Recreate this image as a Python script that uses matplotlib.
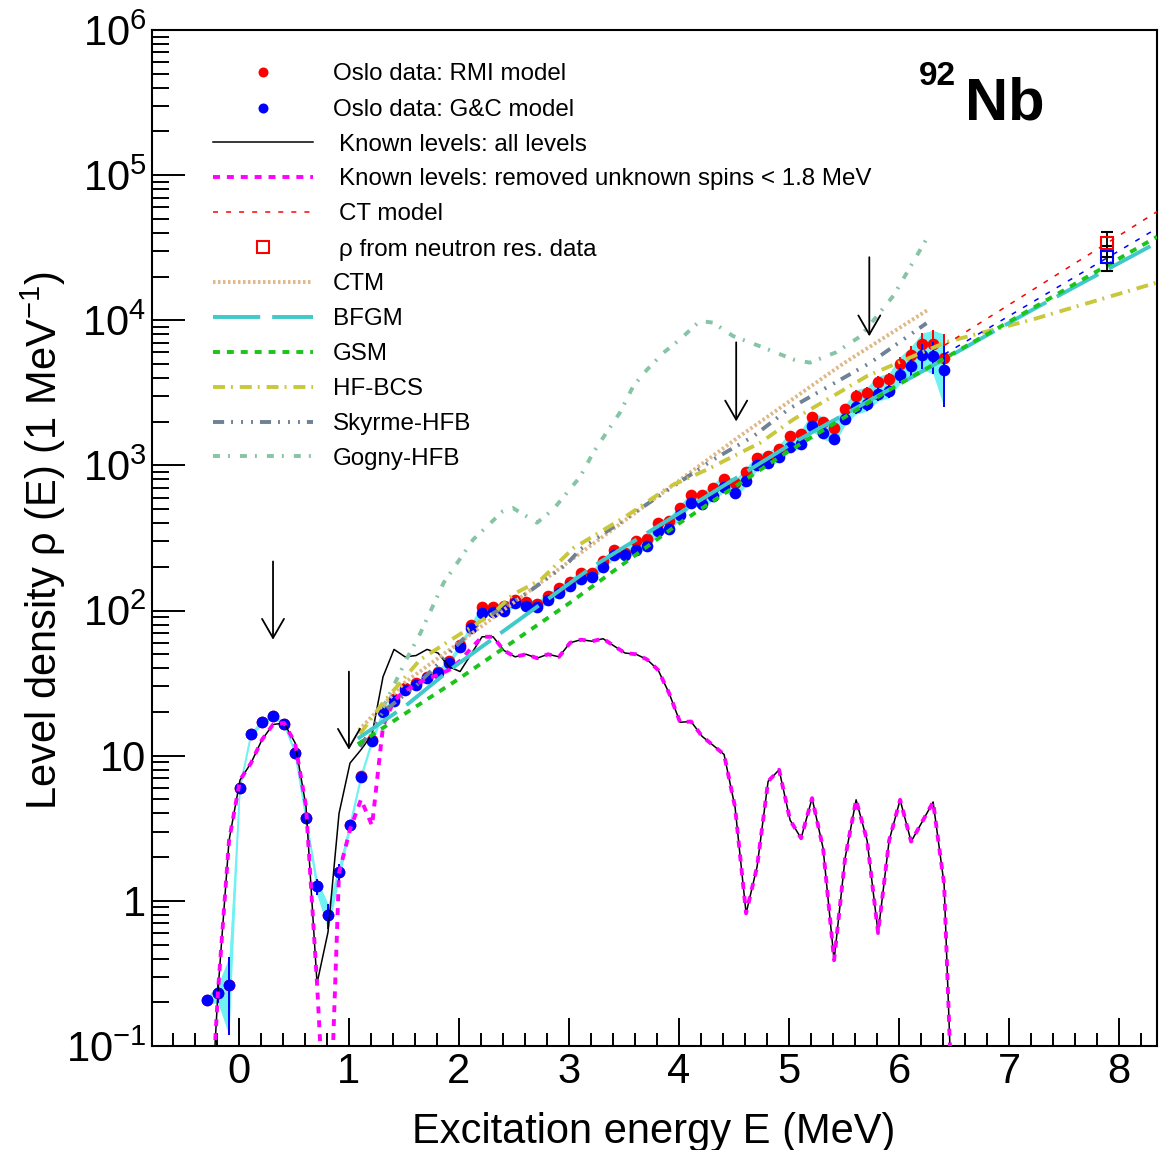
import matplotlib
matplotlib.use("Agg")
import numpy as np
import matplotlib.pyplot as plt
from matplotlib.lines import Line2D
from matplotlib.ticker import FixedLocator, FixedFormatter, LogLocator, MultipleLocator, NullFormatter

plt.rcParams['font.family'] = ['Liberation Sans', 'DejaVu Sans']
plt.rcParams['mathtext.fontset'] = 'custom'
plt.rcParams['mathtext.rm'] = 'Liberation Sans'
plt.rcParams['mathtext.it'] = 'Liberation Sans:italic'
plt.rcParams['mathtext.bf'] = 'Liberation Sans:bold'
plt.rcParams['lines.scale_dashes'] = False

# ---------------- Oslo data (bins in MeV) ----------------
energy = [-0.29, -0.19, -0.09, 0.01, 0.11, 0.21, 0.31, 0.41, 0.51, 0.61,
          0.71, 0.81, 0.91, 1.01, 1.11, 1.21, 1.31, 1.41, 1.51, 1.61,
          1.71, 1.81, 1.91, 2.01, 2.11, 2.21, 2.31, 2.41, 2.51, 2.61,
          2.71, 2.81, 2.91, 3.01, 3.11, 3.21, 3.31, 3.41, 3.51, 3.61,
          3.71, 3.81, 3.91, 4.01, 4.11, 4.21, 4.31, 4.41, 4.51, 4.61,
          4.71, 4.81, 4.91, 5.01, 5.11, 5.21, 5.31, 5.41, 5.51, 5.61,
          5.71, 5.81, 5.91, 6.01, 6.11, 6.21, 6.31, 6.41]

rho_gc = [0.207, 0.232, 0.263, 6.03, 14.1, 17.0, 18.9, 16.6, 10.5, 3.72,
          1.26, 0.794, 1.58, 3.31, 7.16, 12.6, 20.0, 24.0, 28.5, 30.9,
          34.3, 37.2, 43.7, 56.2, 75.9, 96.6, 97.7, 100, 112, 107,
          105, 119, 132, 148, 166, 170, 200, 240, 240, 263,
          277, 352, 363, 452, 553, 543, 617, 708, 646, 776,
          1000, 1047, 1148, 1349, 1396, 1862, 1660, 1514, 2075, 2512,
          2630, 3090, 3236, 4169, 4842, 5741, 5675, 4571]

rho_rmi = [0.207, 0.232, 0.263, 6.03, 14.1, 17.0, 18.9, 16.6, 10.5, 3.72,
           1.26, 0.794, 1.58, 3.31, 7.24, 12.9, 20.4, 24.5, 29.2, 31.6,
           35.1, 38.0, 44.7, 57.5, 79.4, 105, 105, 108, 118, 115,
           111, 126, 143, 157, 182, 182, 219, 260, 251, 301,
           309, 403, 417, 511, 621, 621, 701, 800, 752, 899,
           1130, 1159, 1303, 1585, 1637, 2168, 1995, 1820, 2432, 3020,
           3162, 3750, 3936, 5012, 5754, 6823, 6823, 5534]

rel_err = [0.05, 0.15, 0.55, 0.04, 0.04, 0.04, 0.04, 0.04, 0.04, 0.04,
           0.13, 0.20, 0.13, 0.07, 0.04, 0.04, 0.04, 0.04, 0.04, 0.04,
           0.04, 0.04, 0.04, 0.04, 0.04, 0.05, 0.05, 0.05, 0.05, 0.05,
           0.05, 0.05, 0.05, 0.05, 0.05, 0.05, 0.05, 0.05, 0.05, 0.05,
           0.05, 0.05, 0.05, 0.05, 0.05, 0.05, 0.07, 0.07, 0.07, 0.07,
           0.07, 0.07, 0.07, 0.07, 0.07, 0.08, 0.08, 0.08, 0.08, 0.10,
           0.10, 0.10, 0.10, 0.12, 0.15, 0.20, 0.25, 0.45]

# ---------------- known discrete levels ----------------
kl_energy = energy + [6.51]
kl_all = [0.01, 0.24, 2.6, 6.8, 8.9, 12.9, 16.4, 16.8, 12.3, 4.47,
          0.27, 0.61, 4.0, 8.9, 11, 14, 35, 54, 48, 49,
          54, 51, 41, 38, 50, 66, 66, 53, 48, 50,
          47, 50, 48, 60, 63, 61.5, 64, 57, 51, 50,
          46, 39, 27, 17, 17.2, 13.6, 11.8, 10.2, 4.4, 0.82,
          1.72, 6.65, 8.0, 3.6, 2.7, 5.1, 2.3, 0.39, 1.97, 4.97,
          2.6, 0.6, 2.6, 4.97, 2.56, 3.5, 4.8, 1.3, 0.01]
kl_removed = [0.01, 0.24, 2.6, 6.8, 8.9, 12.9, 16.4, 16.8, 12.3, 4.47,
              0.27, 0.01, 1.56, 3.1, 5.0, 3.3, 16, 24, 28, 31,
              34, 36, 39, 45, 55, 66, 66, 53, 48, 50,
              47, 50, 48, 60, 63, 61.5, 64, 57, 51, 50,
              46, 39, 27, 17, 17.2, 13.6, 11.8, 10.2, 4.4, 0.82,
              1.72, 6.65, 8.0, 3.6, 2.7, 5.1, 2.3, 0.39, 1.97, 4.97,
              2.6, 0.6, 2.6, 4.97, 2.56, 3.5, 4.8, 1.3, 0.01]

# ---------------- extrapolations and neutron resonance points ----------------
ct_energy = [6.41, 8.345]
ct_rho = [6700, 56000]
gc_ext_energy = [6.31, 8.345]
gc_ext_rho = [5250, 43000]

sn_energy = [7.89]
sn_rho_rmi = [34000]
sn_err_rmi = [6500]
sn_rho_gc = [27200]
sn_err_gc = [5500]

# ---------------- model level densities ----------------
ctm_energy = [1.09, 1.5, 2.22, 3.04, 3.83, 4.55, 5.49, 6.27]
ctm_rho = [15.0, 31.6, 79.4, 229, 631, 1585, 5012, 11900]

bfgm_energy = [1.08, 1.51, 1.92, 3.22, 5.04, 6.43, 7.22, 8.345]
bfgm_rho = [13.1, 21.9, 39.2, 202, 1435, 5495, 11900, 34300]

gsm_energy = [1.08, 2.0, 3.0, 4.0, 5.0, 6.0, 7.0, 8.345]
gsm_rho = [12.0, 33.9, 112, 398, 1259, 3631, 9772, 37600]

hfbcs_energy = [1.1, 1.31, 1.645, 1.89, 2.31, 2.49, 2.74, 3.04, 3.52, 3.92,
                4.25, 4.74, 5.04, 5.71, 6.43, 7.22, 8.345]
hfbcs_rho = [14.1, 23.2, 45.7, 60.3, 95.5, 129, 162, 269, 447, 719,
             933, 1435, 2075, 4130, 7080, 10160, 18200]

skyrme_energy = [1.1, 1.31, 1.62, 2.22, 2.62, 2.98, 3.1, 3.95, 4.31, 4.675,
                 5.0, 5.74, 6.25]
skyrme_rho = [11.5, 20.0, 30.9, 87.1, 132, 209, 263, 719, 1096, 1585,
              2455, 5105, 9550]

gogny_energy = [1.31, 1.52, 1.65, 1.86, 2.13, 2.40, 2.49, 2.71, 2.86, 3.1,
                3.22, 3.34, 3.46, 3.585, 3.71, 3.86, 4.01, 4.19, 4.31, 4.49,
                4.74, 5.04, 5.19, 5.43, 5.65, 5.95, 6.25]
gogny_rho = [21.4, 45.7, 70.1, 155, 309, 484, 509, 403, 501, 832,
             1222, 1679, 2291, 3524, 4571, 5984, 7396, 9886, 9638, 7798,
             6607, 5370, 5105, 6026, 7762, 14790, 36300]

# arrows: (energy, tail, tip)
arrow_energy = [0.31, 1.0, 4.52, 5.73]
arrow_tail = [218, 38, 7050, 27200]
arrow_tip = [63, 11, 2010, 7760]

W, H = 1171, 1150
fig = plt.figure(figsize=(W / 100, H / 100), dpi=100)
ax = fig.add_axes([152 / W, 1 - 1046 / H, (1157 - 152) / W, (1046 - 30) / H])

E = np.array(energy)
gc = np.array(rho_gc)
rmi = np.array(rho_rmi)
rel = np.array(rel_err)

band_color = '#70f2f2'
ax.fill_between(E, gc * (1 - rel), rmi * (1 + rel), color=band_color, lw=0, zorder=1)
ax.plot(E, gc, color=band_color, lw=1.2, zorder=1.5)

ax.errorbar(E, rmi, yerr=rmi * rel, fmt='o', color='red', ms=8.4, mew=0,
            elinewidth=1.4, capsize=4.5, capthick=1.4, zorder=3)
ax.errorbar(E, gc, yerr=gc * rel, fmt='o', color='blue', ms=8.4, mew=0,
            elinewidth=1.4, capsize=4.5, capthick=1.4, zorder=4)

# known levels
ax.plot(kl_energy, kl_all, color='black', lw=1.1, zorder=5)
ax.plot(kl_energy, kl_removed, color='magenta', lw=2.8, dashes=(5, 5), zorder=6)

# model curves
styles = {
    'ctm': dict(color='#deb887', lw=2.8, dashes=(1.8, 1.8)),
    'bfgm': dict(color='#3fc9c9', lw=2.8, dashes=(34, 8.6)),
    'gsm': dict(color='#1bc41b', lw=2.8, dashes=(5, 5)),
    'hfbcs': dict(color='#c9c83c', lw=2.8, dashes=(8.6, 4.3, 1.4, 5.0)),
    'skyrme': dict(color='#6f8194', lw=2.8, dashes=(8, 5, 1.4, 5.8, 1.4, 5.8, 1.4, 5)),
    'gogny': dict(color='#86c4a6', lw=2.8, dashes=(5, 5.8, 1.4, 7.2)),
    'ct': dict(color='red', lw=1.1, dashes=(3.6, 5.8)),
    'gcext': dict(color='blue', lw=1.1, dashes=(3.6, 5.8)),
}
ax.plot(gogny_energy, gogny_rho, zorder=7, **styles['gogny'])
ax.plot(ctm_energy, ctm_rho, zorder=7, **styles['ctm'])
ax.plot(skyrme_energy, skyrme_rho, zorder=7, **styles['skyrme'])
ax.plot(hfbcs_energy, hfbcs_rho, zorder=7, **styles['hfbcs'])
ax.plot(ct_energy, ct_rho, zorder=7, **styles['ct'])
ax.plot(gc_ext_energy, gc_ext_rho, zorder=7, **styles['gcext'])
ax.plot(gsm_energy, gsm_rho, zorder=7.2, **styles['gsm'])
ax.plot(bfgm_energy, bfgm_rho, zorder=7.1, **styles['bfgm'])

# neutron resonance points
ax.errorbar(sn_energy, sn_rho_rmi, yerr=sn_err_rmi, fmt='s', mfc='none', mec='red',
            ecolor='black', ms=8, mew=1.5, elinewidth=1.3, capsize=4.5, capthick=1.3, zorder=8)
ax.errorbar(sn_energy, sn_rho_gc, yerr=sn_err_gc, fmt='s', mfc='none', mec='blue',
            ecolor='black', ms=8, mew=1.5, elinewidth=1.3, capsize=4.5, capthick=1.3, zorder=8)

# arrows
for xa, ytail, ytip in zip(arrow_energy, arrow_tail, arrow_tip):
    ax.annotate('', xy=(xa, ytip), xytext=(xa, ytail),
                arrowprops=dict(arrowstyle='->,head_length=1.37,head_width=0.79',
                                mutation_scale=10, lw=1.3, color='black',
                                shrinkA=0, shrinkB=0), zorder=9)

# axes
ax.set_yscale('log')
ax.set_xlim(-0.79, 8.345)
ax.set_ylim(0.1, 1e6)

ytick_vals = [0.1, 1, 10, 100, 1e3, 1e4, 1e5, 1e6]
ytick_labels = ['$10^{-1}$', '1', '10', '$10^{2}$', '$10^{3}$', '$10^{4}$', '$10^{5}$', '$10^{6}$']
ax.yaxis.set_major_locator(FixedLocator(ytick_vals))
ax.yaxis.set_major_formatter(FixedFormatter(ytick_labels))
ax.yaxis.set_minor_locator(LogLocator(base=10, subs=np.arange(2, 10), numticks=20))
ax.yaxis.set_minor_formatter(NullFormatter())
ax.xaxis.set_major_locator(FixedLocator(range(0, 9)))
ax.xaxis.set_minor_locator(MultipleLocator(0.2))

ax.tick_params(which='both', direction='in', top=False, right=False, width=1.4, labelsize=30)
ax.yaxis.set_tick_params(which='major', length=24, pad=4)
ax.yaxis.set_tick_params(which='minor', length=12)
ax.xaxis.set_tick_params(which='major', length=20, pad=4)
ax.xaxis.set_tick_params(which='minor', length=9.5)
for sp in ax.spines.values():
    sp.set_linewidth(1.5)

fig.text(654 / W, 1 - 1143 / H, 'Excitation energy E (MeV)', fontsize=30,
         ha='center', va='baseline')
fig.text(57 / W, 1 - 540 / H, r'Level density ρ (E) (1 MeV$^{-1}$)', fontsize=30,
         rotation=90, rotation_mode='anchor', ha='center', va='baseline')

# title
fig.text(919 / W, 1 - 85 / H, '92', fontsize=24, fontweight='bold', va='baseline')
fig.text(965 / W, 1 - 120 / H, 'Nb', fontsize=43, fontweight='bold', va='baseline')

# legend drawn entry by entry
rows = [71.7, 107.7, 142.3, 176.7, 211.7, 247.3, 281.7, 316.7, 351.7, 386.7, 421.7, 456.0]
entries = [
    ('marker', dict(marker='o', color='red', ms=7.2, mew=0), 'Oslo data: RMI model', 333),
    ('marker', dict(marker='o', color='blue', ms=7.2, mew=0), 'Oslo data: G&C model', 333),
    ('line', dict(color='black', lw=1.1), 'Known levels: all levels', 339),
    ('line', dict(color='magenta', lw=2.8, dashes=(5, 5)), 'Known levels: removed unknown spins < 1.8 MeV', 339),
    ('line', styles['ct'], 'CT model', 339),
    ('marker', dict(marker='s', mfc='none', mec='red', ms=8, mew=1.5), 'ρ from neutron res. data', 339),
    ('line', styles['ctm'], 'CTM', 333),
    ('line', styles['bfgm'], 'BFGM', 333),
    ('line', styles['gsm'], 'GSM', 333),
    ('line', styles['hfbcs'], 'HF-BCS', 333),
    ('line', styles['skyrme'], 'Skyrme-HFB', 333),
    ('line', styles['gogny'], 'Gogny-HFB', 333),
]
for row, (kind, kw, label, tx) in zip(rows, entries):
    yf = 1 - row / H
    if kind == 'marker':
        fig.add_artist(Line2D([263 / W], [yf], transform=fig.transFigure, ls='none', **kw))
    else:
        fig.add_artist(Line2D([213 / W, 313 / W], [yf, yf], transform=fig.transFigure, **kw))
    fig.text(tx / W, 1 - (row + 8.5) / H, label, fontsize=17.4, va='baseline')

fig.savefig('out.png', dpi=100)
